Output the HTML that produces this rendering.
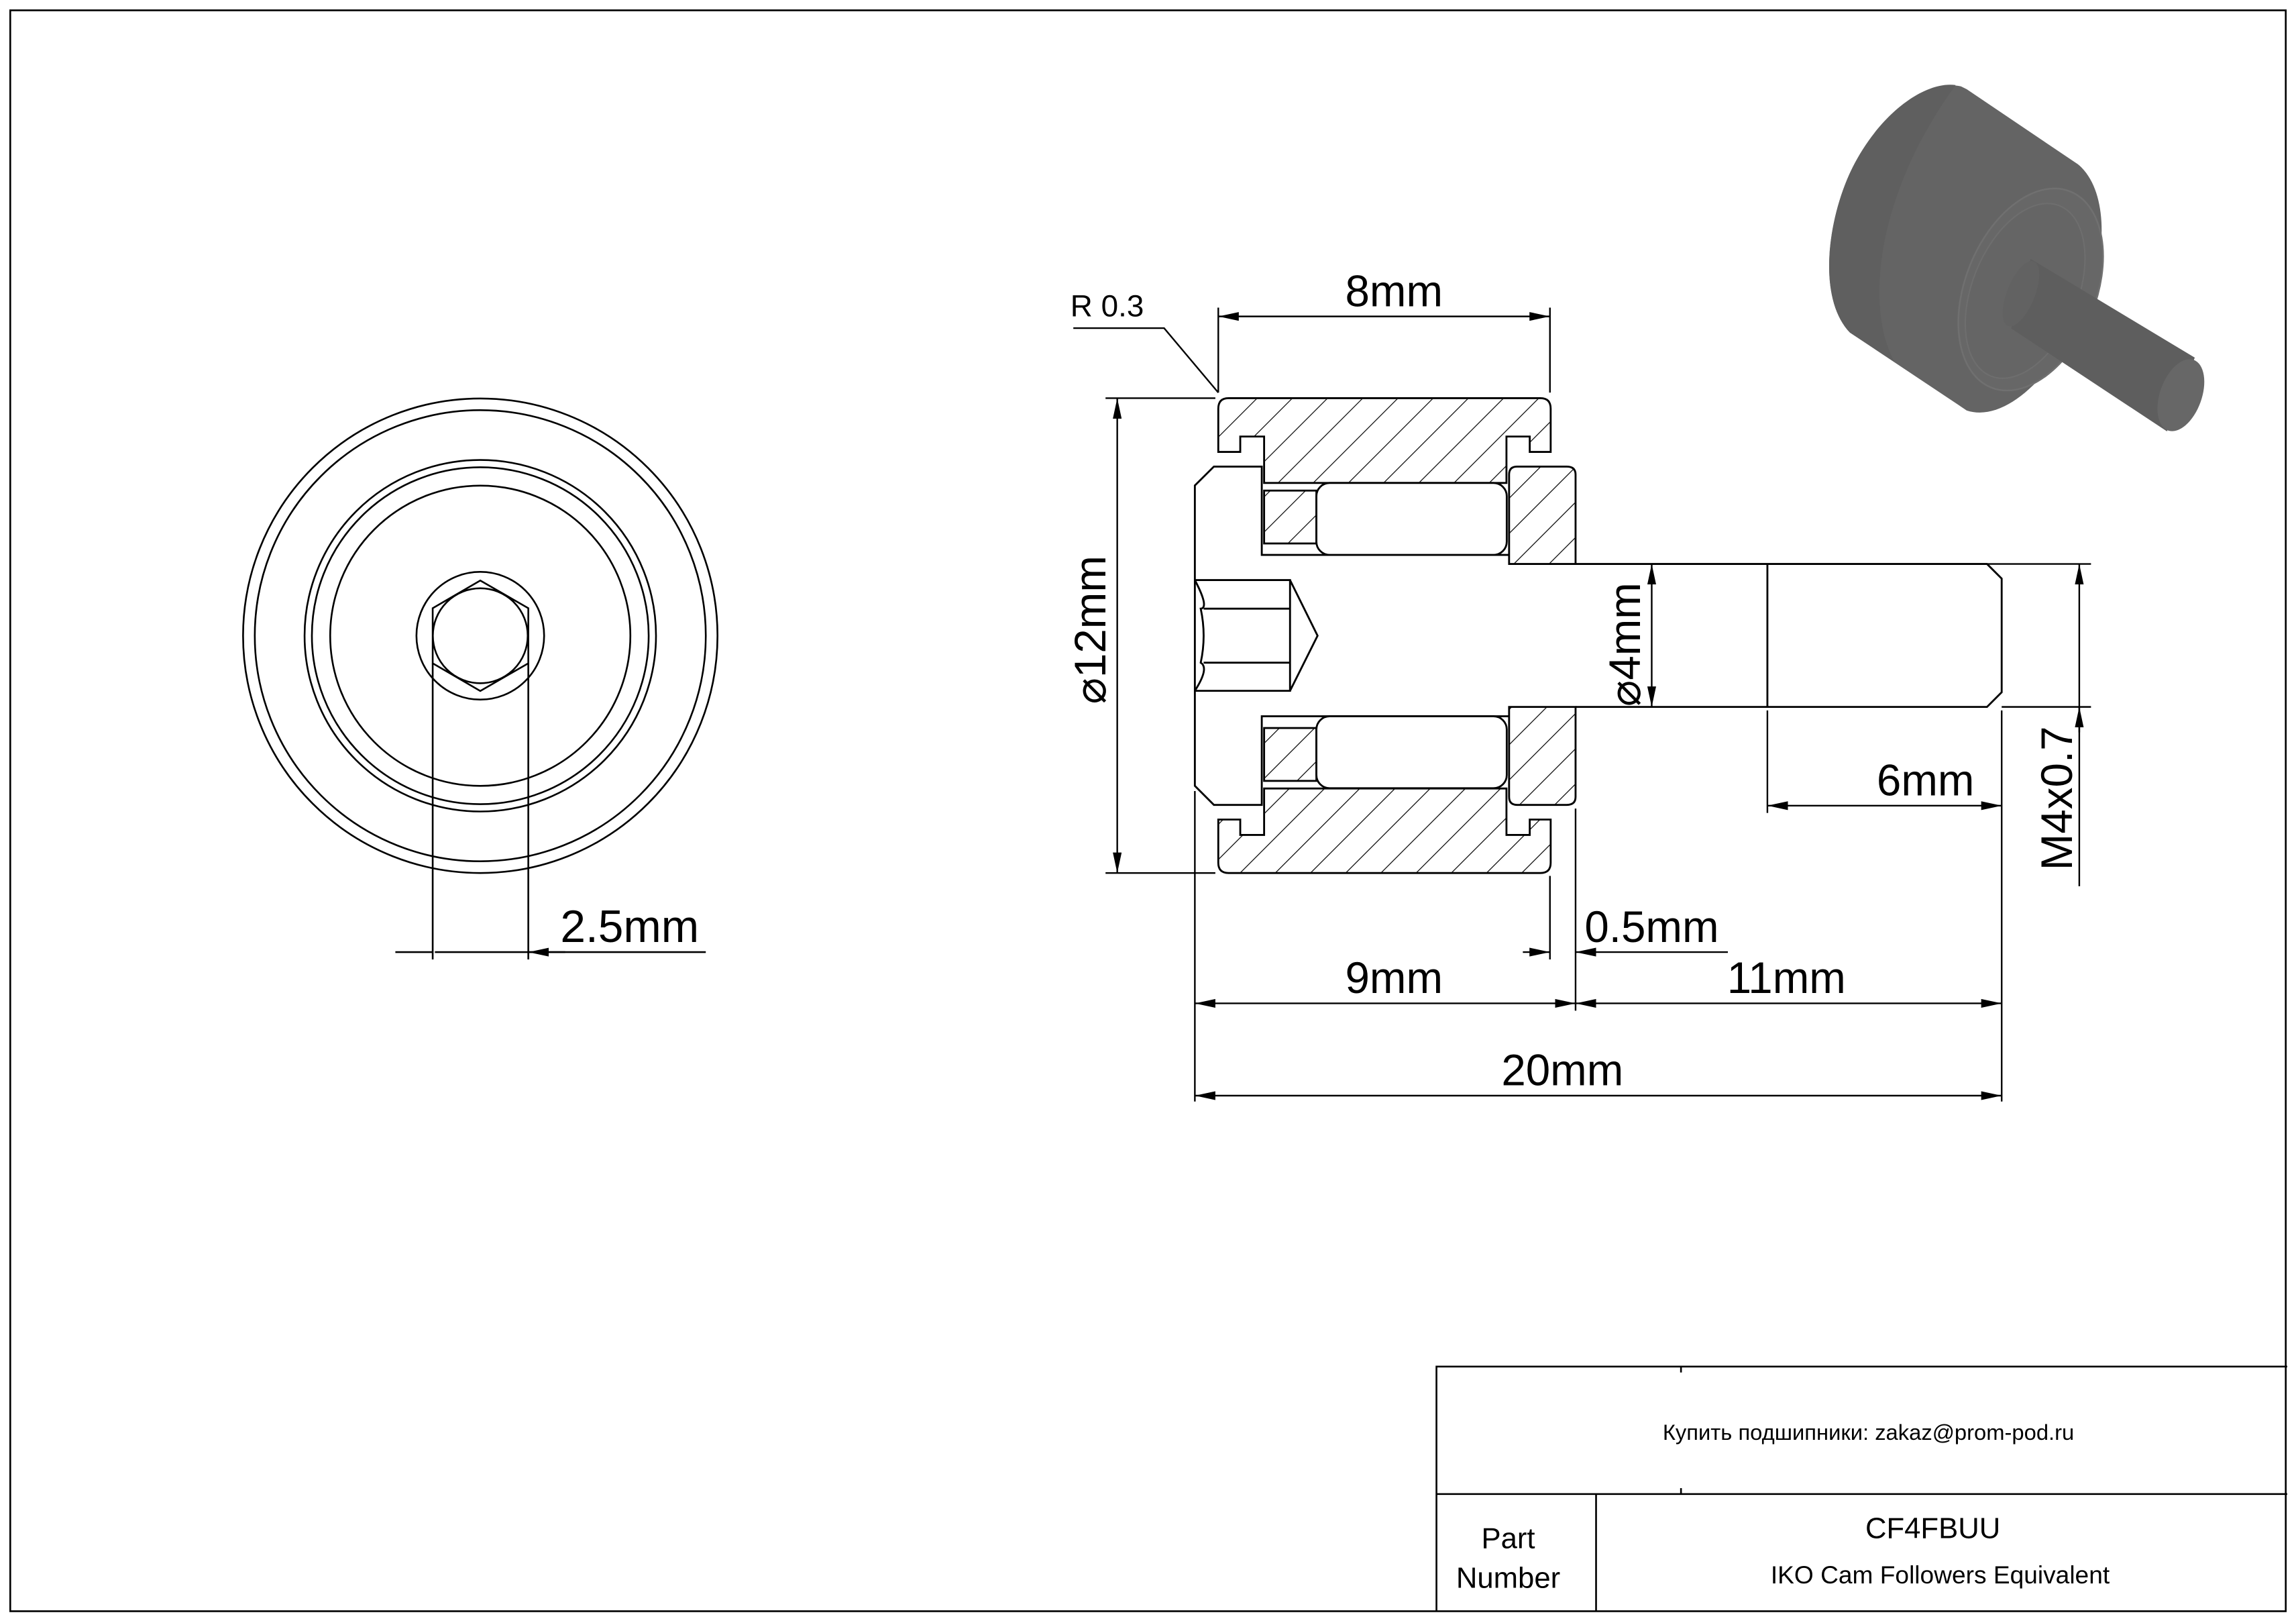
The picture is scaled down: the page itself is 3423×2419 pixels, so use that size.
<!DOCTYPE html>
<html><head><meta charset="utf-8"><style>html,body{margin:0;padding:0;background:#fff}svg{display:block}</style></head>
<body>
<svg width="3423" height="2419" viewBox="0 0 1568 1108" xmlns="http://www.w3.org/2000/svg" font-family="Liberation Sans, sans-serif">
<defs>
<pattern id="h" patternUnits="userSpaceOnUse" width="17" height="17" patternTransform="rotate(45)">
<line x1="0" y1="0" x2="0" y2="17" stroke="#000" stroke-width="1.1"/>
</pattern>
<marker id="a" viewBox="0 0 14 6" refX="14" refY="3" markerWidth="14" markerHeight="6" markerUnits="userSpaceOnUse" orient="auto-start-reverse"><path d="M0,0 L14,3 L0,6 z" fill="#000"/></marker>
</defs>
<rect width="1568" height="1108" fill="#fff"/>
<g fill="none" stroke="#000" stroke-width="1.2">
<rect x="7" y="7" width="1554" height="1093"/>
<path d="M981 1100 V933 H1562 M981 1020 H1562 M1090 1020 V1100 M1148 933 V937 M1148 1016 V1020"/>
<circle cx="328" cy="434" r="162"/>
<circle cx="328" cy="434" r="154"/>
<circle cx="328" cy="434" r="120"/>
<circle cx="328" cy="434" r="115"/>
<circle cx="328" cy="434" r="102.5"/>
<circle cx="328" cy="434" r="43.6"/>
<circle cx="328" cy="434" r="32.4"/>
<polygon points="328,396.3 360.8,415.2 360.8,452.8 328,471.7 295.5,452.8 295.5,415.2"/>
<path d="M295.5 453 V655 M360.8 453 V655 M297 650 H482"/>
</g>
<path d="M270 650 H295.5 M386 650 H360.8" stroke="#000" stroke-width="1.2" marker-end="url(#a)"/>
<text x="430" y="643" font-size="31" text-anchor="middle">2.5mm</text>

<g stroke="#000" stroke-width="1.3">
<path d="M839 271.8 H1052 Q1059 271.8 1059 279 V308.5 H1044.7 V298 H1028.8 V329.7 H863.3 V298 H847 V308.5 H832 V279 Q832 271.8 839 271.8 Z" fill="url(#h)"/>
<path d="M839 596 H1052 Q1059 596 1059 589 V559.5 H1044.7 V570 H1028.8 V538.3 H863.3 V570 H847 V559.5 H832 V589 Q832 596 839 596 Z" fill="url(#h)"/>
<path d="M1030 378.8 H861.7 V318.5 H829 L816 331.4 V536.5 L829 549.5 H861.7 V489 H1030" fill="#fff"/>
<rect x="863.3" y="334.9" width="35.7" height="36.1" fill="url(#h)"/>
<rect x="863.3" y="497" width="35.7" height="36.1" fill="url(#h)"/>
<rect x="899" y="329.7" width="130" height="49.1" rx="9" fill="#fff"/>
<rect x="899" y="489" width="130" height="49.1" rx="9" fill="#fff"/>
<path d="M1030.6 385 V324 Q1030.6 318.5 1036 318.5 H1070 Q1076 318.5 1076 324 V385 Z" fill="url(#h)"/>
<path d="M1030.6 482.6 V544 Q1030.6 549.5 1036 549.5 H1070 Q1076 549.5 1076 544 V482.6 Z" fill="url(#h)"/>
<path d="M816 396 H881 V471.6 H816 M881 396 L899.8 434 L881 471.6 M822 415.5 H881 M822 452.4 H881 M816 396 Q826 415 820 415.5 Q824 434 820 452.4 Q826 456 816 471.6" fill="none"/>
<path d="M1076 385 H1357 L1367 395 V472.6 L1357 482.6 H1076 M1207 385 V482.6" fill="none"/>
</g>

<g fill="none" stroke="#000" stroke-width="1.1">
<path d="M832 210 V268 M1058.5 210 V268"/>
<path d="M755 271.8 H830 M755 596 H830"/>
<path d="M733 224 H795 L832 268"/>
<path d="M1128 385 H1367 M1367 385 H1428 M1367 482.6 H1428"/>
<path d="M1207 485 V555 M1367 485 V752 M1058.5 598 V655 M1076 552 V690 M816 540 V752"/>
</g>
<g stroke="#000" stroke-width="1.1" marker-start="url(#a)" marker-end="url(#a)">
<path d="M832 216 H1058.5"/>
<path d="M763 271.8 V596"/>
<path d="M1128 385 V482.6"/>
<path d="M1207 550 H1367"/>
<path d="M816 685 H1076"/>
<path d="M1076 685 H1367"/>
<path d="M816 748 H1367"/>
</g>
<path d="M1420 385 V605" stroke="#000" stroke-width="1.1" marker-start="url(#a)"/>
<path d="M1420 500 V482.6" stroke="#000" stroke-width="1.1" marker-end="url(#a)"/>
<path d="M1040 650 H1058.5" stroke="#000" stroke-width="1.1" marker-end="url(#a)"/>
<path d="M1180 650 H1076" stroke="#000" stroke-width="1.1" marker-end="url(#a)"/>

<g font-size="30" text-anchor="middle">
<text x="952" y="209">8mm</text>
<text x="952" y="678">9mm</text>
<text x="1220" y="678">11mm</text>
<text x="1067" y="741">20mm</text>
<text x="1315" y="543">6mm</text>
<text x="1128" y="643">0.5mm</text>
<text transform="translate(755,430) rotate(-90)">⌀12mm</text>
<text transform="translate(1120,440) rotate(-90)">⌀4mm</text>
<text transform="translate(1415,545) rotate(-90)">M4x0.7</text>
</g>
<text x="731" y="216" font-size="21">R 0.3</text>

<text x="1276" y="983" font-size="15" text-anchor="middle">Купить подшипники: zakaz@prom-pod.ru</text>
<text x="1030" y="1057" font-size="20" text-anchor="middle">Part</text>
<text x="1030" y="1084" font-size="20" text-anchor="middle">Number</text>
<text x="1320" y="1050" font-size="20" text-anchor="middle">CF4FBUU</text>
<text x="1325" y="1081" font-size="17" text-anchor="middle">IKO Cam Followers Equivalent</text>

<g transform="translate(1236.8,22.9) scale(0.1899)">
<path d="M540,190 C420,160 250,290 150,480 C60,660 20,950 140,1075 L560,1355 C700,1400 870,1230 980,1000 C1070,800 1070,560 960,470 L560,200 Z" fill="#646464"/>
<path d="M520,185 C400,170 240,300 150,480 C60,660 20,950 140,1075 L300,1180 C200,1000 220,600 520,185 Z" fill="#5f5f5f"/>
<ellipse cx="790" cy="920" rx="235" ry="380" transform="rotate(22 790 920)" fill="#676767" stroke="#707070" stroke-width="6"/>
<ellipse cx="770" cy="925" rx="190" ry="330" transform="rotate(22 770 925)" fill="#656565" stroke="#6e6e6e" stroke-width="5"/>
<polygon points="790,810 1380,1165 1280,1430 720,1060" fill="#5e5e5e"/>
<ellipse cx="755" cy="935" rx="50" ry="125" transform="rotate(22 755 935)" fill="#626262"/>
<ellipse cx="1330" cy="1300" rx="75" ry="135" transform="rotate(20 1330 1300)" fill="#676767"/>
</g>
</svg>
</body></html>
